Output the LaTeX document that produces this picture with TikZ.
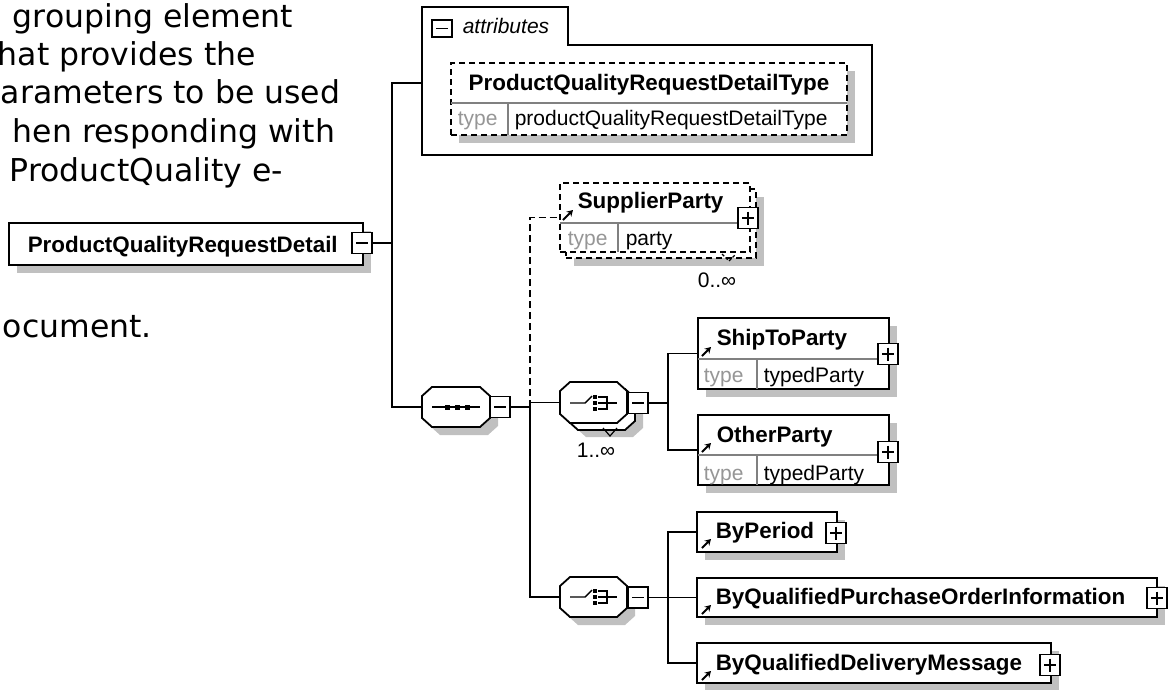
\documentclass[tikz,border=0pt]{standalone}
\usepackage{fontspec}
\setmainfont{Liberation Sans}
\newfontfamily\descfont{DejaVu Sans}
\usetikzlibrary{shadows,arrows.meta}

\definecolor{shadowgray}{RGB}{192,192,192}
\definecolor{typegray}{RGB}{150,150,150}

% octagon outline between (x1,y1) and (x2,y2)
\newcommand{\octagon}[4]{({#1+10},#2) -- ({#3-10},#2) -- (#3,{#2+9}) -- (#3,{#4-9}) -- ({#3-10},#4) -- ({#1+10},#4) -- (#1,{#4-9}) -- (#1,{#2+9}) -- cycle}

\tikzset{
  plainbox/.style={draw, line width=1.8pt, fill=white, inner sep=0pt},
  box/.style={plainbox, drop shadow={shadow xshift=8pt, shadow yshift=-8pt, fill=shadowgray, opacity=1}},
  dashbox/.style={dash pattern=on 6pt off 4pt},
  octa/.style={draw, line width=1.8pt, fill=white},
  minusbox/.style={draw, fill=white, line width=1.4pt, inner sep=0pt, minimum width=20pt, minimum height=21pt,
    path picture={\draw[line width=1.4pt] ([xshift=4pt]path picture bounding box.west) -- ([xshift=-4pt]path picture bounding box.east);}},
  plusbox/.style={minusbox,
    path picture={\draw[line width=1.4pt] ([xshift=4pt]path picture bounding box.west) -- ([xshift=-4pt]path picture bounding box.east)
      ([yshift=-4pt]path picture bounding box.north) -- ([yshift=4pt]path picture bounding box.south);}},
  namefont/.style={font=\fontsize{22.4}{26}\selectfont\bfseries, inner sep=0pt, anchor=base west},
  typefont/.style={font=\fontsize{21}{25}\selectfont, inner sep=0pt, anchor=base west},
  typelbl/.style={typefont, text=typegray},
  descr/.style={font=\descfont\fontsize{31.5}{38}\selectfont, inner sep=0pt, anchor=base west},
  sepline/.style={draw=gray, line width=1.2pt},
  refarrow/.style={-{Stealth[length=6pt,width=7pt]}, line width=2pt},
  icon/.style={line width=1.4pt}
}

\begin{document}
\begin{tikzpicture}[x=1pt, y=-1pt, line width=1.6pt]
        \useasboundingbox (0,0) rectangle (1171,689);
        %
        % description text
        \node[descr] (d1) at (12,27) {grouping element};
        \node[descr] (d2) at (-3,65) {hat provides the};
        \node[descr] (d3) at (0,103) {arameters to be used};
        \node[descr] (d4) at (12,142) {hen responding with};
        \node[descr] (d5) at (9,181) {ProductQuality e-};
        \node[descr] (d6) at (2,337) {ocument.};
        %
        % root element
        \node[box, minimum width=354pt, minimum height=42pt] (root) at (186,244) {};
        \node[namefont] (rootname) at (27,252) {ProductQualityRequestDetail};
        \node[minusbox] (rootm) at (362,243) {};
        %
        % attributes
        \draw[line width=1.8pt, fill=white] (422,7) -- (568,7) -- (568,45) -- (872,45) -- (872,155) -- (422,155) -- cycle;
        \node[minusbox, minimum height=17pt] (attrm) at (442,28.5) {};
        \node[font=\fontsize{21}{24}\selectfont\itshape, inner sep=0pt, anchor=base west] (attrlbl) at (462,33) {attributes};
        \node[box, dashbox, minimum width=396pt, minimum height=72pt] (attrtype) at (649,99) {};
        \draw[sepline] (451,103) -- (847,103);
        \draw[sepline] (508,103) -- (508,135);
        \node[namefont, anchor=base] (attrname) at (649,90) {ProductQualityRequestDetailType};
        \node[typelbl] (attrtl) at (457,125) {type};
        \node[typefont] (attrtv) at (514,125) {productQualityRequestDetailType};
        %
        % sequence
        \fill[shadowgray] \octagon{430}{395}{498}{435};
        \draw[octa] \octagon{422}{387}{490}{427};
        \node[inner sep=0pt, minimum width=68pt, minimum height=40pt] (seq) at (456,407) {};
        \draw[icon] (432,407) -- (480,407);
        \fill (444.5,404.5) rectangle +(5,5);
        \fill (454.5,404.5) rectangle +(5,5);
        \fill (464.5,404.5) rectangle +(5,5);
        \node[minusbox] (seqm) at (500,407) {};
        %
        % SupplierParty
        \node[box, dashbox, minimum width=190pt, minimum height=69pt] (suppback) at (661,223.5) {};
        \node[plainbox, dashbox, minimum width=190pt, minimum height=69pt] (supp) at (655,217.5) {};
        \draw[sepline] (560,223) -- (750,223);
        \draw[sepline] (618,223) -- (618,252);
        \node[namefont] (suppname) at (577,208) {SupplierParty};
        \node[typelbl] (supptl) at (567,245) {type};
        \node[typefont] (supptv) at (625,245) {party};
        \node[plusbox] (suppp) at (748,218) {};
        \draw[refarrow] (563,220) -- (573,210);
        \draw[dash pattern=on 3pt off 2pt, line width=1.2pt] (722,254) -- (729,261) -- (736,254);
        \node[typefont, anchor=base] (suppocc) at (717,287) {0..∞};
        %
        % first choice
        \fill[shadowgray] \octagon{576}{396}{643}{437};
        \draw[octa] \octagon{568}{389}{635}{430};
        \draw[octa] \octagon{560}{382}{627}{423};
        \node[inner sep=0pt, minimum width=67pt, minimum height=41pt] (ch1) at (593.5,402.5) {};
        \draw[icon] (570,403) -- (585,403) -- (592,396);
        \fill (593,395) rectangle +(4,4);
        \fill (593,401) rectangle +(4,4);
        \fill (593,407) rectangle +(4,4);
        \draw[icon] (598,397) -- (607,397) -- (607,409) -- (598,409);
        \draw[icon] (598,403) -- (617,403);
        \node[minusbox] (ch1m) at (638,403) {};
        \draw[line width=1.2pt] (603,428) -- (610,436) -- (617,428);
        \node[typefont, anchor=base] (ch1occ) at (596,457) {1..∞};
        %
        % ShipToParty, OtherParty
        \node[box, minimum width=191pt, minimum height=71pt] (ship) at (793.5,353.5) {};
        \draw[sepline] (698,359) -- (889,359);
        \draw[sepline] (757,359) -- (757,389);
        \node[namefont] (shipname) at (716,345) {ShipToParty};
        \node[typelbl] (shiptl) at (703,382) {type};
        \node[typefont] (shiptv) at (763,382) {typedParty};
        \node[plusbox] (shipp) at (888,354) {};
        \draw[refarrow] (702,356) -- (711,347);
        %
        \node[box, minimum width=191pt, minimum height=70pt] (other) at (793.5,450) {};
        \draw[sepline] (698,455) -- (889,455);
        \draw[sepline] (757,455) -- (757,485);
        \node[namefont] (othername) at (716,442) {OtherParty};
        \node[typelbl] (othertl) at (703,480) {type};
        \node[typefont] (othertv) at (763,480) {typedParty};
        \node[plusbox] (otherp) at (888,452) {};
        \draw[refarrow] (702,452) -- (711,443);
        %
        % second choice
        \fill[shadowgray] \octagon{568}{585}{635}{625};
        \draw[octa] \octagon{560}{577}{627}{617};
        \node[inner sep=0pt, minimum width=67pt, minimum height=40pt] (ch2) at (593.5,597) {};
        \draw[icon] (570,597) -- (585,597) -- (592,590);
        \fill (593,589) rectangle +(4,4);
        \fill (593,595) rectangle +(4,4);
        \fill (593,601) rectangle +(4,4);
        \draw[icon] (598,591) -- (607,591) -- (607,603) -- (598,603);
        \draw[icon] (598,597) -- (617,597);
        \node[minusbox] (ch2m) at (638,597.5) {};
        %
        \node[box, minimum width=140pt, minimum height=40pt] (byper) at (767,532) {};
        \node[namefont] (bypername) at (715,538) {ByPeriod};
        \node[plusbox] (byperp) at (836,533) {};
        \draw[refarrow] (702,548) -- (711,539);
        %
        \node[box, minimum width=460pt, minimum height=39pt] (byqpoi) at (927,597.5) {};
        \node[namefont] (byqpoiname) at (715,604) {ByQualifiedPurchaseOrderInformation};
        \node[plusbox] (byqpoip) at (1157,598) {};
        \draw[refarrow] (702,614) -- (711,605);
        %
        \node[box, minimum width=354pt, minimum height=40pt] (byqdm) at (874,663) {};
        \node[namefont] (byqdmname) at (715,670) {ByQualifiedDeliveryMessage};
        \node[plusbox] (byqdmp) at (1050,665) {};
        \draw[refarrow] (702,680) -- (711,671);
        %
        % connectors
        \coordinate (attrin) at (422,83);
        \coordinate (trunk) at (392,243);
        \coordinate (seqj) at (530,407);
        \coordinate (ch1j) at (668,403);
        \coordinate (ch2j) at (668,597);
        \draw (attrin) -| (trunk) -- (rootm.east);
        \draw (trunk) |- (seq.west);
        \draw (seqm.east) -- (seqj);
        \draw[dash pattern=on 7pt off 4pt] (seqj) |- (supp.west);
        \draw (seqj) |- (ch2.west);
        \draw (seqj |- ch1.west) -- (ch1.west);
        \draw (ch1m.east) -- (ch1j);
        \draw (ship.west) -| (ch1j) |- (other.west);
        \draw (ch2m.east) -- (byqpoi.west);
        \draw (byper.west) -| (ch2j) |- (byqdm.west);
\end{tikzpicture}
\end{document}
